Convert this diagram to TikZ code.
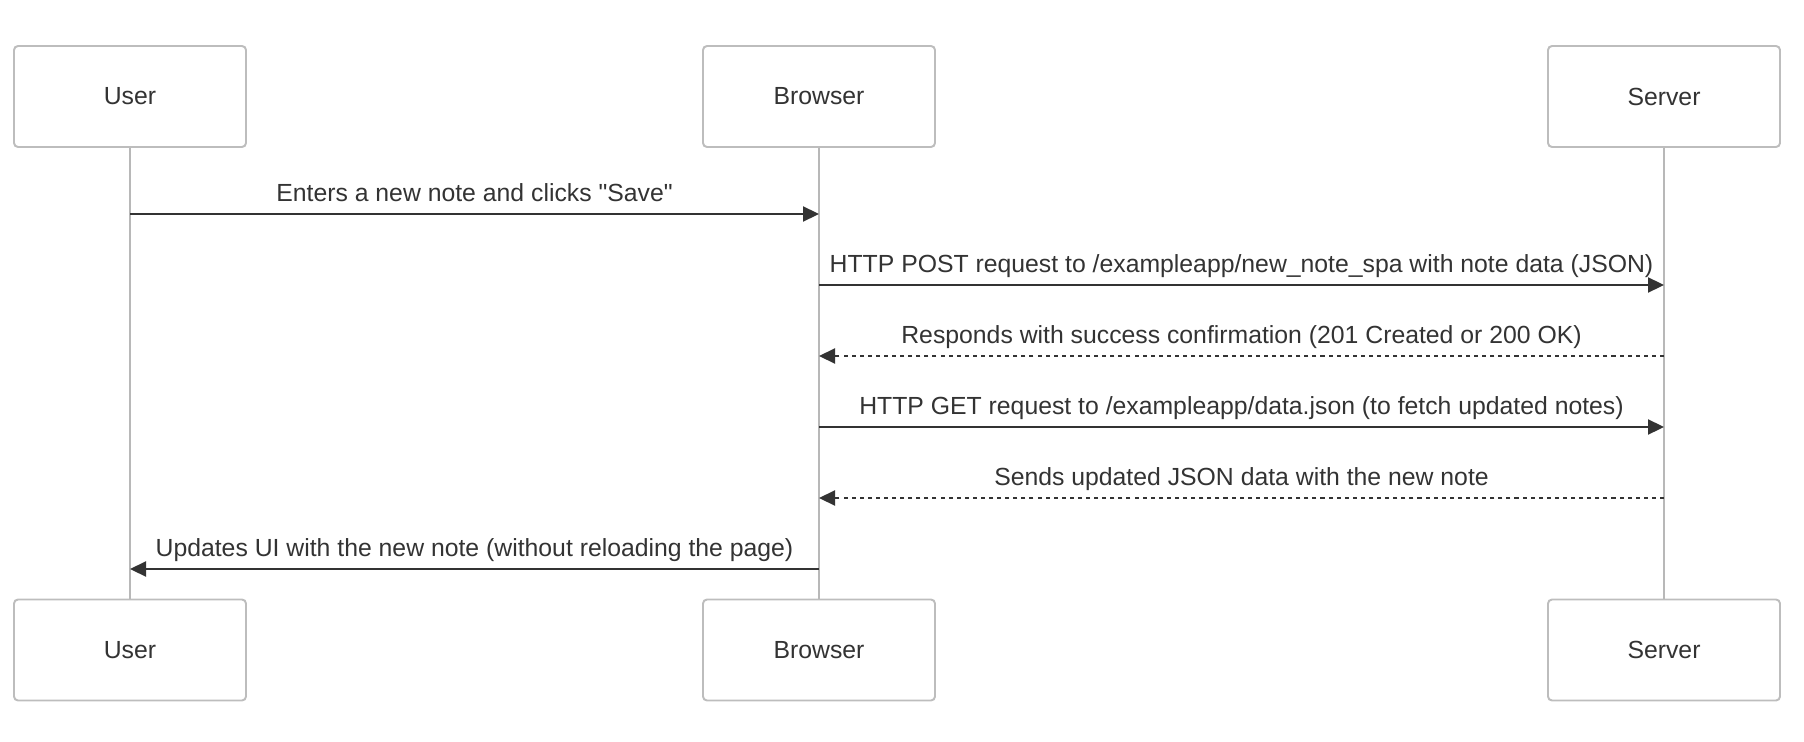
\documentclass[tikz,border=0pt]{standalone}
\usepackage{fontspec}
\setmainfont{Liberation Sans}
\usepackage{tikz}
\usetikzlibrary{arrows.meta}

\definecolor{boxgray}{HTML}{BDBDBD}
\definecolor{linegray}{HTML}{B8B8B8}
\definecolor{inkgray}{HTML}{333333}

\begin{document}
\begin{tikzpicture}[
    actor/.style={draw=boxgray,line width=1.1pt,fill=white,rounded corners=0.08cm,
      minimum width=4.64cm,minimum height=2.02cm,inner sep=0pt,
      text=inkgray,font=\fontsize{14.1pt}{17pt}\selectfont},
    life/.style={draw=linegray,line width=1.4pt},
    msg/.style={draw=inkgray,line width=1.25pt,-{Triangle[length=0.32cm,width=0.3cm]}},
    reply/.style={msg,dash pattern=on 2.3pt off 2.3pt},
    lbl/.style={text=inkgray,inner sep=0pt,anchor=base,
      font=\fontsize{14.1pt}{17pt}\selectfont}]

    \useasboundingbox (0,0) rectangle (36.08,-14.84);

    \node[actor] (usertop) at (2.6,-1.93) {User};

    \node[actor] (browsertop) at (16.38,-1.93) {Browser};

    \node[actor] (servertop) at (33.28,-1.93) {Server};

    \node[actor] (userbot) at (2.6,-13.0) {User};

    \node[actor] (browserbot) at (16.38,-13.0) {Browser};

    \node[actor] (serverbot) at (33.28,-13.0) {Server};



    \draw[life] (usertop) -- (userbot);

    \draw[life] (browsertop) -- (browserbot);

    \draw[life] (servertop) -- (serverbot);



    \coordinate (r1) at (0,-4.28);

    \coordinate (r2) at (0,-5.70);

    \coordinate (r3) at (0,-7.12);

    \coordinate (r4) at (0,-8.54);

    \coordinate (r5) at (0,-9.96);

    \coordinate (r6) at (0,-11.38);



    \node[lbl] (m1) at (9.49,-4.02)
      {Enters a new note and clicks \textquotedbl Save\textquotedbl};

    \draw[msg] (usertop |- r1) -- (browsertop |- r1);

    \node[lbl] (m2) at (24.83,-5.44)
      {HTTP POST request to /exampleapp/new\_note\_spa with note data (JSON)};

    \draw[msg] (browsertop |- r2) -- (servertop |- r2);

    \node[lbl] (m3) at (24.83,-6.86)
      {Responds with success confirmation (201 Created or 200 OK)};

    \draw[reply] (servertop |- r3) -- (browsertop |- r3);

    \node[lbl] (m4) at (24.83,-8.28)
      {HTTP GET request to /exampleapp/data.json (to fetch updated notes)};

    \draw[msg] (browsertop |- r4) -- (servertop |- r4);

    \node[lbl] (m5) at (24.83,-9.70) {Sends updated JSON data with the new note};

    \draw[reply] (servertop |- r5) -- (browsertop |- r5);

    \node[lbl] (m6) at (9.49,-11.12)
      {Updates UI with the new note (without reloading the page)};

    \draw[msg] (browsertop |- r6) -- (usertop |- r6);

  \end{tikzpicture}
\end{document}
